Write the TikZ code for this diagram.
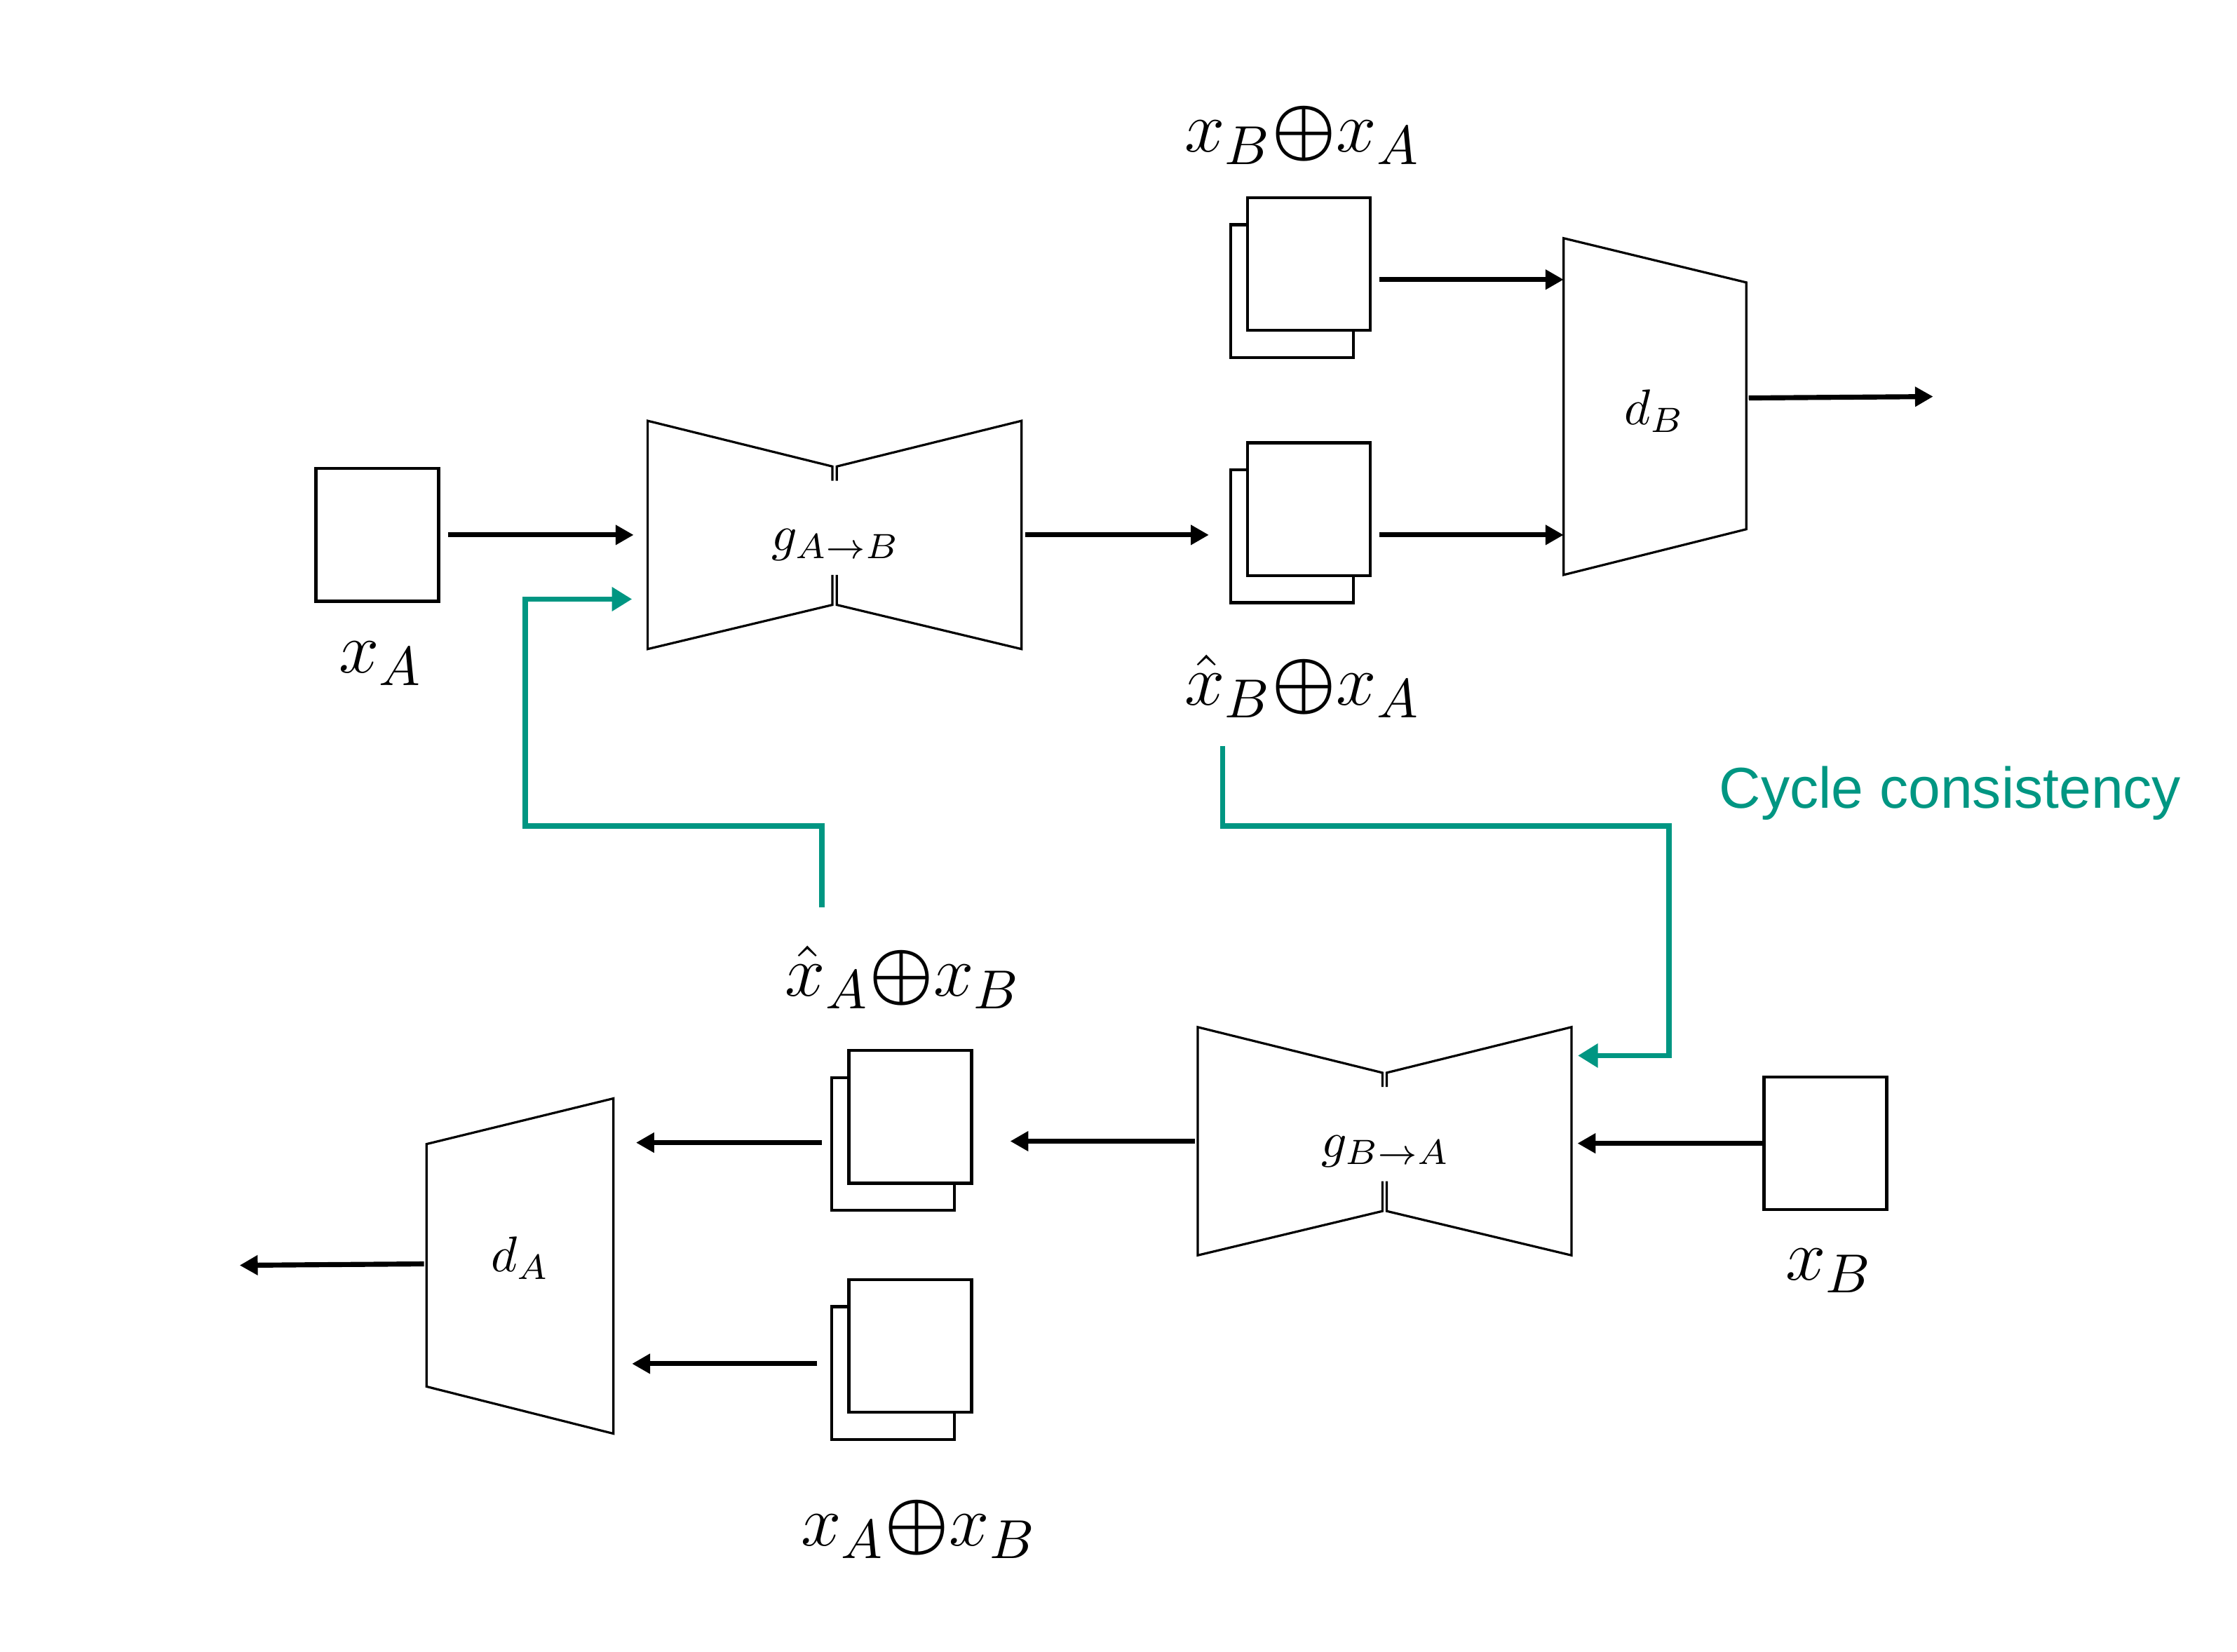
\documentclass[tikz,border=0pt]{standalone}
\usepackage{xcolor}
\usepackage{amssymb,amsmath}
\usepackage{fontspec}
\usepackage{tikz}
\usetikzlibrary{arrows.meta}
\definecolor{cyc}{RGB}{0,150,130}
\newfontfamily\arial{Liberation Sans}
\newcommand{\cc}{{\boldsymbol{\oplus}}}
\newcommand{\layers}[3]{%
  \node[img] (#1b) at (#2-12,#3+19) {};
  \node[front] (#1) at (#2,#3) {};}
\tikzset{gen/.pic={
  \draw[net] (-1.5,-38) -- (-1.5,-48) -- (-131,-80) -- (-131,80) -- (-1.5,49) -- (-1.5,28);
  \draw[net] (1.5,-38) -- (1.5,-48) -- (131,-80) -- (131,80) -- (1.5,49) -- (1.5,28);
  \node[font=\fontsize{9.6}{11}\selectfont] (-lab) at (1,7) {$g_{#1}$};
  \coordinate (-west) at (-131,0);
  \coordinate (-east) at (131,0);
}}

\begin{document}
\begin{tikzpicture}[x=0.01cm, y=-0.01cm,
  img/.style={draw, line width=0.6pt, minimum width=0.86cm, minimum height=0.93cm, inner sep=0pt},
  front/.style={img, fill=white},
  net/.style={line width=0.45pt},
  arr/.style={line width=1pt, -{Triangle[length=3.6pt, width=3.8pt]}},
  cycarr/.style={draw=cyc, line width=1.1pt, -{Triangle[length=4pt, width=4.6pt]}},
  big/.style={font=\fontsize{15}{18}\selectfont}]
\useasboundingbox (0,0) rectangle (1568,1158);

% inputs
\node[img] (xA) at (264.5,375) {};
\node[big] (labxA) at (267,465) {$x_A$};
\node[img] (xB) at (1279.5,801.5) {};
\node[big] (labxB) at (1282,891) {$x_B$};

% generators
\pic (gab) at (585,375) {gen={A\to B}};
\pic (gba) at (970.5,800) {gen={B\to A}};

% pairs
\layers{realB}{917.5}{185}
\layers{hatB}{917.5}{357}
\layers{hatA}{638}{783}
\layers{realA}{638}{943.5}
\node[big] (labrealB) at (913,95) {$x_B\cc x_A$};
\node[big] (labhatB) at (913,481) {$\hat{x}_B\cc x_A$};
\node[big] (labhatA) at (633,685) {$\hat{x}_A\cc x_B$};
\node[big] (labrealA) at (644,1072) {$x_A\cc x_B$};

% discriminators
\draw[net] (1096,167) -- (1224,198) -- (1224,371) -- (1096,403) -- cycle;
\node (dB) at (1160,288) {$d_B$};
\draw[net] (299,802) -- (430,770) -- (430,1005) -- (299,972) -- cycle;
\node (dA) at (365,882) {$d_A$};
\coordinate (dB-in1) at (1096,196);
\coordinate (dB-in2) at (1096,375);
\coordinate (dB-out) at (1224,279);
\coordinate (outB) at (1355,278);
\coordinate (dA-in1) at (430,801);
\coordinate (dA-in2) at (430,956);
\coordinate (dA-out) at (299,886);
\coordinate (outA) at (168,887);

% A -> B
\draw[arr, shorten <=1.5pt, shorten >=2.8pt] (xA.east) -- (xA.east -| gab-west);
\draw[arr, shorten <=0.8pt, shorten >=4pt] (gab-east) -- (gab-east -| hatBb.west);
\draw[arr, shorten <=1.5pt] (realB.east |- dB-in1) -- (dB-in1);
\draw[arr, shorten <=1.5pt] (hatB.east |- dB-in2) -- (dB-in2);
\draw[arr, shorten <=0.5pt] (dB-out) -- (outB);

% B -> A
\draw[arr, shorten >=1.2pt] (xB.west) -- (xB.west -| gba-east);
\draw[arr, shorten <=0.5pt, shorten >=7.4pt] (gba-west) -- (gba-west -| hatA.east);
\draw[arr, shorten <=1.7pt, shorten >=4.5pt] (hatAb.west |- dA-in1) -- (dA-in1);
\draw[arr, shorten <=2.6pt, shorten >=3.7pt] (realAb.west |- dA-in2) -- (dA-in2);
\draw[arr, shorten <=0.5pt] (dA-out) -- (outA);

% cycle consistency
\coordinate (cycA) at (576,636);
\coordinate (cycAin) at (443,420);
\coordinate (cycB) at (857,523);
\coordinate (cycBin) at (1106,740);
\draw[cycarr] (cycA) -- ++(0,-57) -| ++(-208,-159) -- (cycAin);
\draw[cycarr] (cycB) -- ++(0,56) -| ++(313,161) -- (cycBin);
\node[text=cyc, font=\arial\fontsize{11.5}{14}\selectfont] (cyctxt) at (1367,556) {Cycle consistency};
\end{tikzpicture}
\end{document}
